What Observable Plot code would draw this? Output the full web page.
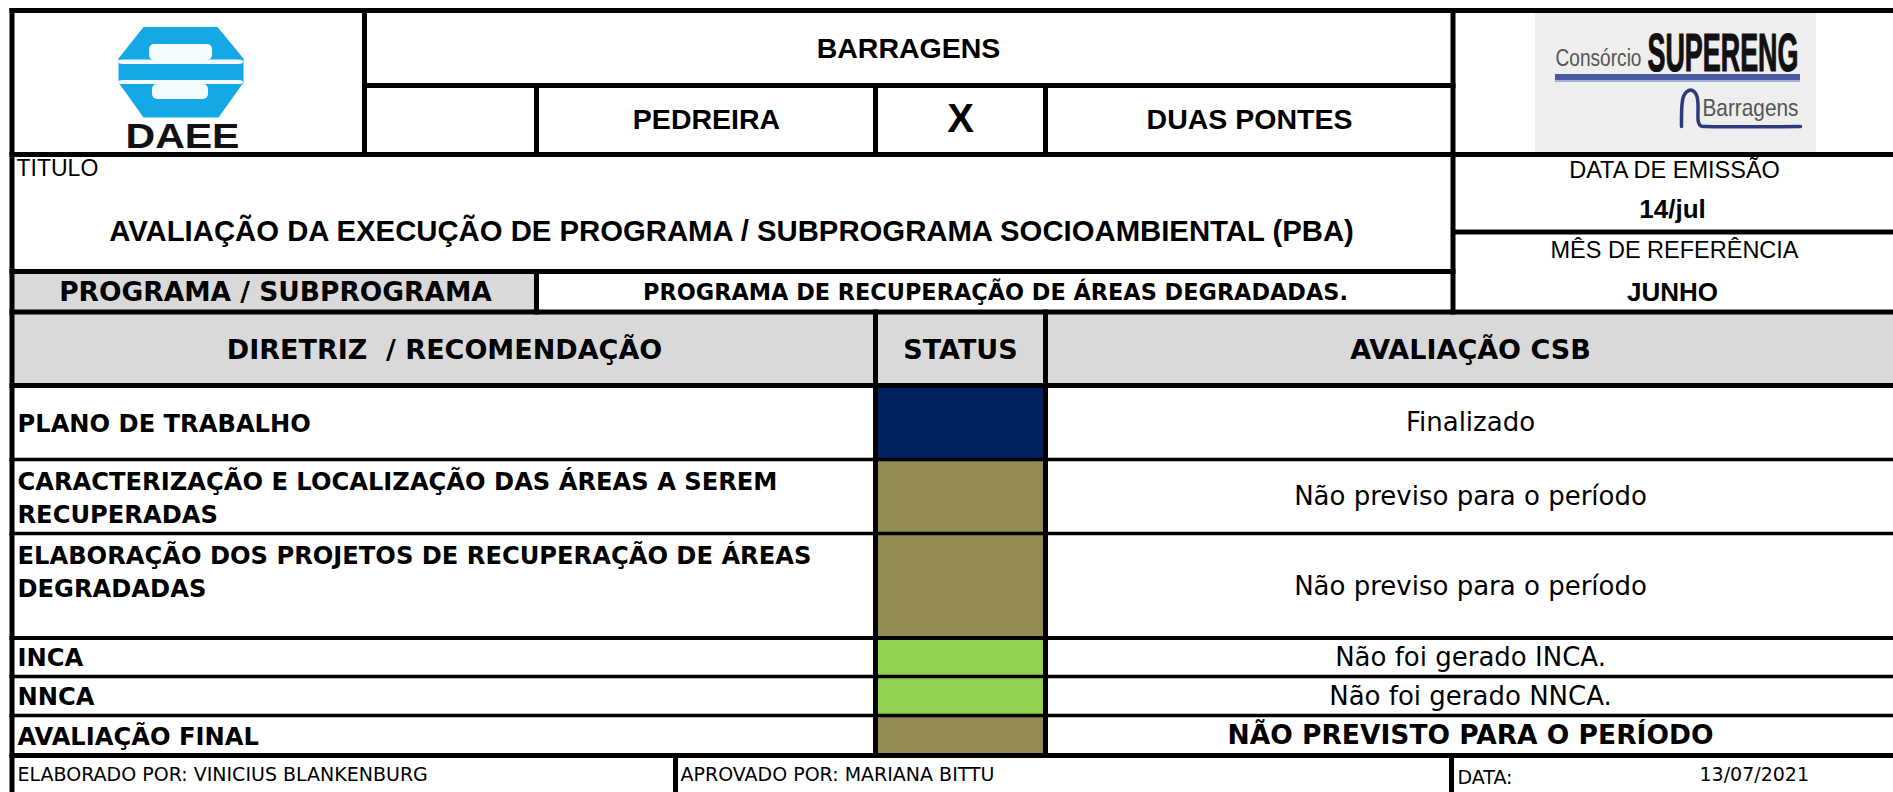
<!DOCTYPE html>
<html>
<head>
<meta charset="utf-8">
<script src="https://cdn.jsdelivr.net/npm/d3@7"></script>
<script src="https://cdn.jsdelivr.net/npm/@observablehq/plot@0.6"></script>
<style>
html, body { margin: 0; padding: 0; overflow: hidden; background: #fff; }
svg { display: block; }
svg text { white-space: pre; }
</style>
</head>
<body>
<div id="chart"></div>
<script>
// ---------- content ----------
const headerTitle = ["BARRAGENS"];
const damNames = ["PEDREIRA", "X", "DUAS PONTES"];
const titleLabel = ["TITULO"];
const reportTitle = ["AVALIAÇÃO DA EXECUÇÃO DE PROGRAMA / SUBPROGRAMA SOCIOAMBIENTAL (PBA)"];
const dateLabels = ["DATA DE EMISSÃO", "MÊS DE REFERÊNCIA"];
const dateValues = ["14/jul", "JUNHO"];
const programLabel = ["PROGRAMA / SUBPROGRAMA"];
const programName = ["PROGRAMA DE RECUPERAÇÃO DE ÁREAS DEGRADADAS."];
const columnHeaders = ["DIRETRIZ  / RECOMENDAÇÃO", "STATUS", "AVALIAÇÃO CSB"];
const guidelines = [
  "PLANO DE TRABALHO",
  "CARACTERIZAÇÃO E LOCALIZAÇÃO DAS ÁREAS A SEREM\nRECUPERADAS",
  "ELABORAÇÃO DOS PROJETOS DE RECUPERAÇÃO DE ÁREAS\nDEGRADADAS",
  "INCA",
  "NNCA",
  "AVALIAÇÃO FINAL"
];
const statuses = ["Concluído", "Não previsto", "Não previsto", "Sem ocorrência", "Sem ocorrência", "Não previsto"];
const evaluations = [
  "Finalizado",
  "Não previso para o período",
  "Não previso para o período",
  "Não foi gerado INCA.",
  "Não foi gerado NNCA.",
  "NÃO PREVISTO PARA O PERÍODO"
];
const statusKeys = ["Concluído", "Não previsto", "Sem ocorrência"];
const statusColors = ["#002060", "#948A54", "#92D050"];
const footerTexts = ["ELABORADO POR: VINICIUS BLANKENBURG", "APROVADO POR: MARIANA BITTU", "DATA:", "13/07/2021"];
const logoLeftText = ["DAEE"];
const logoBrand = ["SUPERENG"];
const logoSmallTexts = ["Consórcio", "Barragens"];

// ---------- layout (sheet geometry) ----------
const W = 1893, H = 792;
const rowEdges = [385.5, 459.5, 533.5, 638, 676.5, 715.5, 755.5];
const colStatus = [875.5, 1045.5];
const hLines = [
  [10.5, 9.5, W, 5], [85.5, 362, 1455.5, 5], [154.5, 9.5, W, 5], [232, 1451, W, 5],
  [271.5, 9.5, 1455.5, 5], [312, 9.5, W, 5], [385.5, 9.5, W, 5], [459.5, 9.5, W, 3.5],
  [533.5, 9.5, W, 3.5], [638, 9.5, W, 4], [676.5, 9.5, W, 3.5], [715.5, 9.5, W, 3.5],
  [755.5, 9.5, W, 5]
];
const vLines = [
  [12, 8, H, 5], [364.5, 8, 157, 5], [536.5, 83, 157, 5], [875.5, 83, 157, 5],
  [1045.5, 83, 157, 5], [1453, 8, 314.5, 5], [536.5, 269, 314.5, 5],
  [875.5, 309.5, 758, 5], [1045.5, 309.5, 758, 5], [675.5, 753, H, 5], [1451.5, 753, H, 5]
];
const lineRects = [
  ...hLines.map(([y, x1, x2, t]) => ({x1, x2, y1: y - t / 2, y2: y + t / 2})),
  ...vLines.map(([x, y1, y2, t]) => ({x1: x - t / 2, x2: x + t / 2, y1, y2}))
];
const grayCells = [
  {x1: 12, x2: 536.5, y1: 271.5, y2: 312},
  {x1: 12, x2: W, y1: 312, y2: 385.5}
];
const rows = guidelines.map((g, i) => ({
  label: g, status: statuses[i], evaluation: evaluations[i],
  top: rowEdges[i], bottom: rowEdges[i + 1]
}));

// logo geometry (decoration)
const daeeHex = [[143,26.5],[217,26.5],[243,58],[243,82],[218,117],[143,117],[118,82],[118,58],[143,26.5]];
const daeeWhite = [
  {x1: 149, x2: 212, y1: 44, y2: 60},
  {x1: 152, x2: 208, y1: 84, y2: 99},
  {x1: 118, x2: 243, y1: 59.5, y2: 64},
  {x1: 118, x2: 243, y1: 80, y2: 84}
];
const superArc = [[1681,126],[1681.5,104],[1683,96],[1686,91.5],[1690,89.5],[1694,91.5],[1696.5,96],[1697.5,104],[1698,122],[1700.5,125.5],[1706,126],[1800,126]];

const bold = "bold";
const sansV = "DejaVu Sans, Verdana, sans-serif";
const sansA = "Liberation Sans, Arial, Helvetica, sans-serif";

const plot = Plot.plot({
  width: W, height: H, margin: 0,
  x: {domain: [0, W], range: [0, W], axis: null},
  y: {domain: [0, H], range: [0, H], axis: null},
  color: {domain: statusKeys, range: statusColors},
  style: {background: "white"},
  marks: [
    // cell fills
    Plot.rect(grayCells, {x1: "x1", x2: "x2", y1: "y1", y2: "y2", fill: "#D9D9D9"}),
    Plot.rect(rows, {x1: colStatus[0], x2: colStatus[1], y1: "top", y2: "bottom", fill: "status"}),
    // DAEE logo
    Plot.line(daeeHex, {x: d => d[0], y: d => d[1], fill: "#14a9e6", stroke: "none"}),
    Plot.rect(daeeWhite, {x1: "x1", x2: "x2", y1: "y1", y2: "y2", fill: "#f4fbfe", rx: 5}),
    Plot.text(logoLeftText, {x: 182, y: 136, text: d => d, fontFamily: sansA, fontWeight: 900, fontSize: 35, fill: "#111"}),
    // SUPERENG logo
    Plot.rect([0], {x1: 1535, x2: 1816, y1: 13, y2: 152, fill: "#eeeeee"}),
    Plot.rect([0], {x1: 1555, x2: 1800, y1: 74, y2: 80, fill: "#4d5ba6"}),
    Plot.rect([0], {x1: 1555, x2: 1800, y1: 80, y2: 82, fill: "#a9b0d6"}),
    Plot.line(superArc, {x: d => d[0], y: d => d[1], stroke: "#2d3a7c", strokeWidth: 3.5, curve: "catmull-rom"}),
    Plot.text(logoSmallTexts, {x: [1555, 1702], y: [58, 108], text: d => d, textAnchor: "start",
      fontFamily: sansA, fontSize: 24, fill: "#555"}),
    Plot.text(logoBrand, {x: 1647, y: 54, text: d => d, textAnchor: "start",
      fontFamily: sansA, fontWeight: bold, fontSize: 53, fill: "#111", stroke: "#111", strokeWidth: 1.2}),
    // grid lines
    Plot.rect(lineRects, {x1: "x1", x2: "x2", y1: "y1", y2: "y2", fill: "black"}),
    // header texts
    Plot.text(headerTitle, {x: 908, y: 48, text: d => d, fontFamily: sansA, fontWeight: bold, fontSize: 28.5, fill: "#000"}),
    Plot.text(damNames, {x: [706, 960, 1249], y: 119, text: d => d, fontFamily: sansA, fontWeight: bold,
      fontSize: d => d === "X" ? 40 : 28.5, fill: "#000"}),
    Plot.text(titleLabel, {x: 16, y: 168.5, text: d => d, textAnchor: "start", fontFamily: sansA, fontSize: 23, fill: "#000"}),
    Plot.text(reportTitle, {x: 731, y: 231, text: d => d, fontFamily: sansA, fontWeight: bold, fontSize: 29.3, fill: "#000"}),
    Plot.text(dateLabels, {x: 1674, y: [169.5, 250], text: d => d, fontFamily: sansA, fontSize: 23.5, fill: "#000"}),
    Plot.text(dateValues, {x: 1672, y: [209, 292.5], text: d => d, fontFamily: sansA, fontWeight: bold, fontSize: 26, fill: "#000"}),
    Plot.text(programLabel, {x: 275, y: 292.5, text: d => d, fontFamily: sansV, fontWeight: bold, fontSize: 26.5, fill: "#000"}),
    Plot.text(programName, {x: 995, y: 292.5, text: d => d, fontFamily: sansV, fontWeight: bold, fontSize: 22.4, fill: "#000"}),
    Plot.text(columnHeaders, {x: [444, 960, 1470], y: 349.5, text: d => d, fontFamily: sansV, fontWeight: bold, fontSize: 27, fill: "#000"}),
    // body rows
    Plot.text(rows, {x: 17, y: d => d.label.includes("\n") ? d.top + 36.3 : (d.top + d.bottom) / 2 - 2,
      text: "label", textAnchor: "start", lineAnchor: "middle", lineHeight: 1.36,
      fontFamily: sansV, fontWeight: bold, fontSize: 24.2, fill: "#000"}),
    Plot.text(rows.slice(0, 5), {x: 1470, y: d => (d.top + d.bottom) / 2, text: "evaluation",
      fontFamily: sansV, fontSize: 26, fill: "#000"}),
    Plot.text(rows.slice(5), {x: 1470, y: d => (d.top + d.bottom) / 2, text: "evaluation",
      fontFamily: sansV, fontWeight: bold, fontSize: 26.5, fill: "#000"}),
    // footer
    Plot.text(footerTexts, {x: [17, 680, 1457, 1699], y: [774, 774, 777, 774], text: d => d, textAnchor: "start",
      fontFamily: sansV, fontSize: 19, fill: "#000"})
  ]
});

document.getElementById("chart").appendChild(plot);

// condensed logo lettering: scale glyphs horizontally about their anchor
const targetWidths = {"DAEE": 114, "Consórcio": 86, "SUPERENG": 151, "Barragens": 96};
d3.select(plot).selectAll("text").each(function () {
  const t = this.textContent;
  if (!targetWidths[t]) return;
  const natural = this.getComputedTextLength();
  if (!natural) return;
  const s = targetWidths[t] / natural;
  const tr = this.getAttribute("transform") || "";
  this.setAttribute("transform", tr + ` scale(${s.toFixed(4)},1)`);
});
</script>
</body>
</html>
